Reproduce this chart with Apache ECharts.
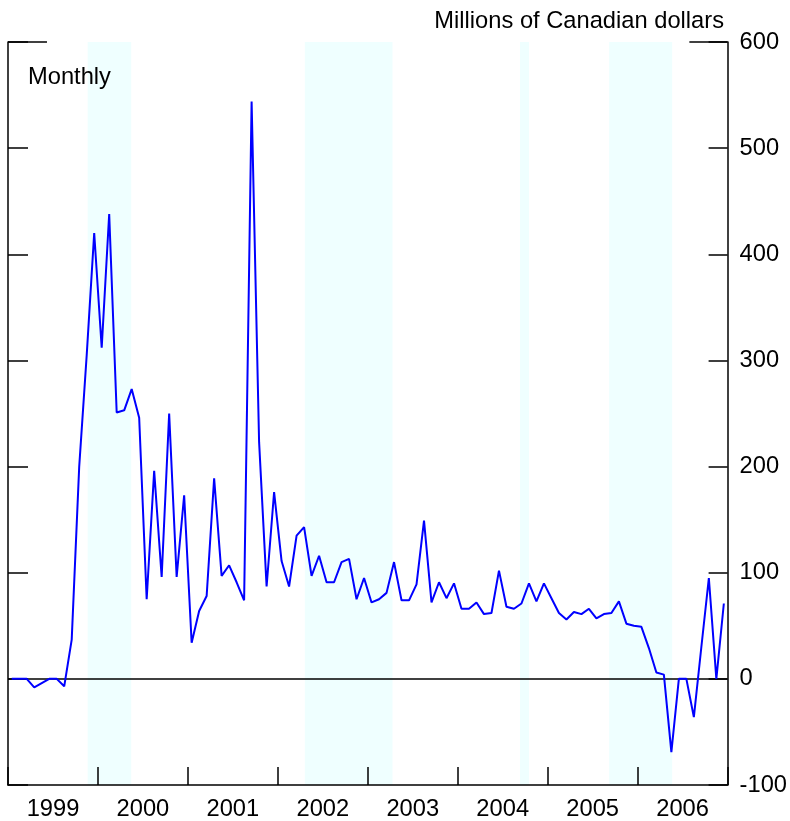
<!DOCTYPE html>
<html>
<head>
<meta charset="utf-8">
<script src="https://cdn.jsdelivr.net/npm/echarts@6/dist/echarts.min.js"></script>
<style>
html,body{margin:0;padding:0;background:#fff;}
#chart{width:790px;height:821px;}
</style>
</head>
<body>
<div id="chart"></div>
<script>
// Monthly values, Jan 1999 .. Dec 2006 (millions of Canadian dollars)
var values = [
  0, 0, 0, -8, -4, 0, 0, -7, 37, 200, 305, 420,
  312, 438, 251, 253, 273, 246, 75, 196, 96, 250, 96, 173,
  34, 64, 78, 189, 97, 107, 91, 74, 544, 223, 87, 176,
  111, 87, 135, 143, 97, 116, 91, 91, 110, 113, 75, 95,
  72, 75, 81, 110, 74, 74, 89, 149, 72, 91, 76, 90,
  66, 66, 72, 61, 62, 102, 68, 66, 71, 90, 73, 90,
  76, 62, 56, 63, 61, 66, 57, 61, 62, 73, 52, 50,
  49, 29, 6, 4, -69, 0, 0, -36, 30, 95, 0, 71
];
var years = ['1999', '2000', '2001', '2002', '2003', '2004', '2005', '2006'];
// shaded periods, in months from Jan 1999
var shadedBands = [[10.63, 16.44], [39.6, 51.3], [68.3, 69.5], [80.2, 88.6]];
var yMin = -100, yMax = 600, yStep = 100;
var unitLabel = 'Millions of Canadian dollars';
var freqLabel = 'Monthly';

var nMonths = years.length * 12;
var lineData = values.map(function (v, i) { return [i + 0.5, v]; });
var FONT = 'Liberation Sans, Arial, sans-serif';
var FS = 23.7;

var chart = echarts.init(document.getElementById('chart'));
chart.setOption({
  animation: false,
  backgroundColor: '#ffffff',
  grid: { left: 8, right: 62, top: 42, bottom: 36, containLabel: false },
  xAxis: [
    {
      type: 'value', min: 0, max: nMonths, interval: 12, position: 'bottom',
      axisLine: { show: true, onZero: false, lineStyle: { color: '#000', width: 1.5 } },
      axisTick: { show: true, inside: true, length: 18, lineStyle: { color: '#000', width: 1.5 } },
      axisLabel: { show: false },
      splitLine: { show: false }
    },
    {
      type: 'value', min: 0, max: nMonths, interval: 6, position: 'bottom',
      axisLine: { show: false, onZero: false },
      axisTick: { show: false },
      splitLine: { show: false },
      axisLabel: {
        show: true, margin: 12, color: '#000', fontSize: FS, fontFamily: FONT,
        formatter: function (v) {
          if (v % 12 === 6) return years[(v - 6) / 12];
          return '';
        }
      }
    }
  ],
  yAxis: [
    {
      type: 'value', position: 'right', min: yMin, max: yMax, interval: yStep,
      axisLine: { show: true, onZero: false, lineStyle: { color: '#000', width: 1.5 } },
      axisTick: { show: true, inside: true, length: 19, lineStyle: { color: '#000', width: 1.5 } },
      axisLabel: { show: true, margin: 12, color: '#000', fontSize: FS, fontFamily: FONT },
      splitLine: { show: false }
    },
    {
      type: 'value', position: 'left', min: yMin, max: yMax, interval: yStep,
      axisLine: { show: true, onZero: false, lineStyle: { color: '#000', width: 1.5 } },
      axisTick: { show: true, inside: true, length: 20, lineStyle: { color: '#000', width: 1.5 } },
      axisLabel: { show: false },
      splitLine: { show: false }
    }
  ],
  graphic: [
    { type: 'text', right: 66, top: 9, z: 100, style: { text: unitLabel, fill: '#000', font: FS + 'px ' + FONT } },
    { type: 'text', left: 28, top: 65, z: 100, style: { text: freqLabel, fill: '#000', font: FS + 'px ' + FONT } }
  ],
  series: [
    {
      name: 'bands', type: 'line', xAxisIndex: 0, yAxisIndex: 0, data: [], z: 0,
      markArea: {
        silent: true, z: 0,
        itemStyle: { color: '#efffff' },
        data: shadedBands.map(function (b) { return [{ xAxis: b[0] }, { xAxis: b[1] }]; })
      }
    },
    {
      name: 'value', type: 'line', xAxisIndex: 0, yAxisIndex: 0, z: 3,
      data: lineData, showSymbol: false, symbol: 'none',
      lineStyle: { color: '#0000ff', width: 2 },
      clip: false,
      markLine: {
        silent: true, symbol: 'none', label: { show: false }, z: 2,
        lineStyle: { color: '#000', width: 1.5, type: 'solid' },
        data: [
          { yAxis: 0 },
          [{ coord: [0, yMax] }, { coord: [5.2, yMax] }],
          [{ coord: [nMonths - 5.1, yMax] }, { coord: [nMonths, yMax] }]
        ]
      }
    }
  ]
});
</script>
</body>
</html>
